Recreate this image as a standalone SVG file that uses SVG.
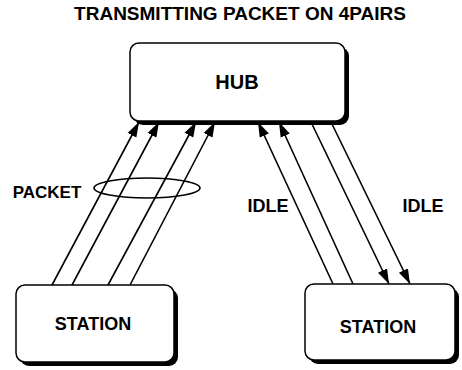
<svg xmlns="http://www.w3.org/2000/svg" width="462" height="370" viewBox="0 0 462 370">
<style>
text{font-family:"Liberation Sans",Arial,sans-serif;font-size:18px;font-weight:bold;fill:#000;text-anchor:middle}
.box{fill:#fff;stroke:#000;stroke-width:1.5}
.sh{fill:#000}
.ln{stroke:#000;stroke-width:1.6;fill:none}
</style>
<defs>
<marker id="ah" markerUnits="userSpaceOnUse" markerWidth="16" markerHeight="12" viewBox="0 0 16 12" refX="15" refY="6" orient="auto">
<path d="M0,1 L15,6 L0,11 Z" fill="#000"/>
</marker>
</defs>
<text x="240" y="20" style="font-size:19px">TRANSMITTING PACKET ON 4PAIRS</text>
<g id="hub">
<rect class="sh" x="134" y="47" width="215" height="78" rx="9"/>
<rect class="box" x="130" y="43" width="215" height="78" rx="9"/>
<text x="237" y="89" style="font-size:20px">HUB</text>
</g>
<g id="station-left">
<rect class="sh" x="20" y="289" width="158" height="77" rx="9"/>
<rect class="box" x="16" y="285" width="158" height="77" rx="9"/>
<text x="93" y="330">STATION</text>
</g>
<g id="station-right">
<rect class="sh" x="309" y="288" width="150" height="76" rx="9"/>
<rect class="box" x="305" y="284" width="150" height="76" rx="9"/>
<text x="378" y="333">STATION</text>
</g>
<g id="connectors">
<line class="ln" x1="52" y1="285" x2="139" y2="122" marker-end="url(#ah)"/>
<line class="ln" x1="72" y1="285" x2="159" y2="122" marker-end="url(#ah)"/>
<line class="ln" x1="108" y1="285" x2="196" y2="122" marker-end="url(#ah)"/>
<line class="ln" x1="130" y1="285" x2="215" y2="122" marker-end="url(#ah)"/>
<line class="ln" x1="333" y1="284" x2="258" y2="122" marker-end="url(#ah)"/>
<line class="ln" x1="353" y1="284" x2="279" y2="122" marker-end="url(#ah)"/>
<line class="ln" x1="311" y1="122" x2="389" y2="284" marker-end="url(#ah)"/>
<line class="ln" x1="331" y1="122" x2="410" y2="284" marker-end="url(#ah)"/>
<ellipse class="ln" cx="147" cy="188" rx="53" ry="10"/>
</g>
<text x="47" y="198" style="font-size:17px">PACKET</text>
<text x="268" y="212">IDLE</text>
<text x="423" y="212">IDLE</text>
</svg>
